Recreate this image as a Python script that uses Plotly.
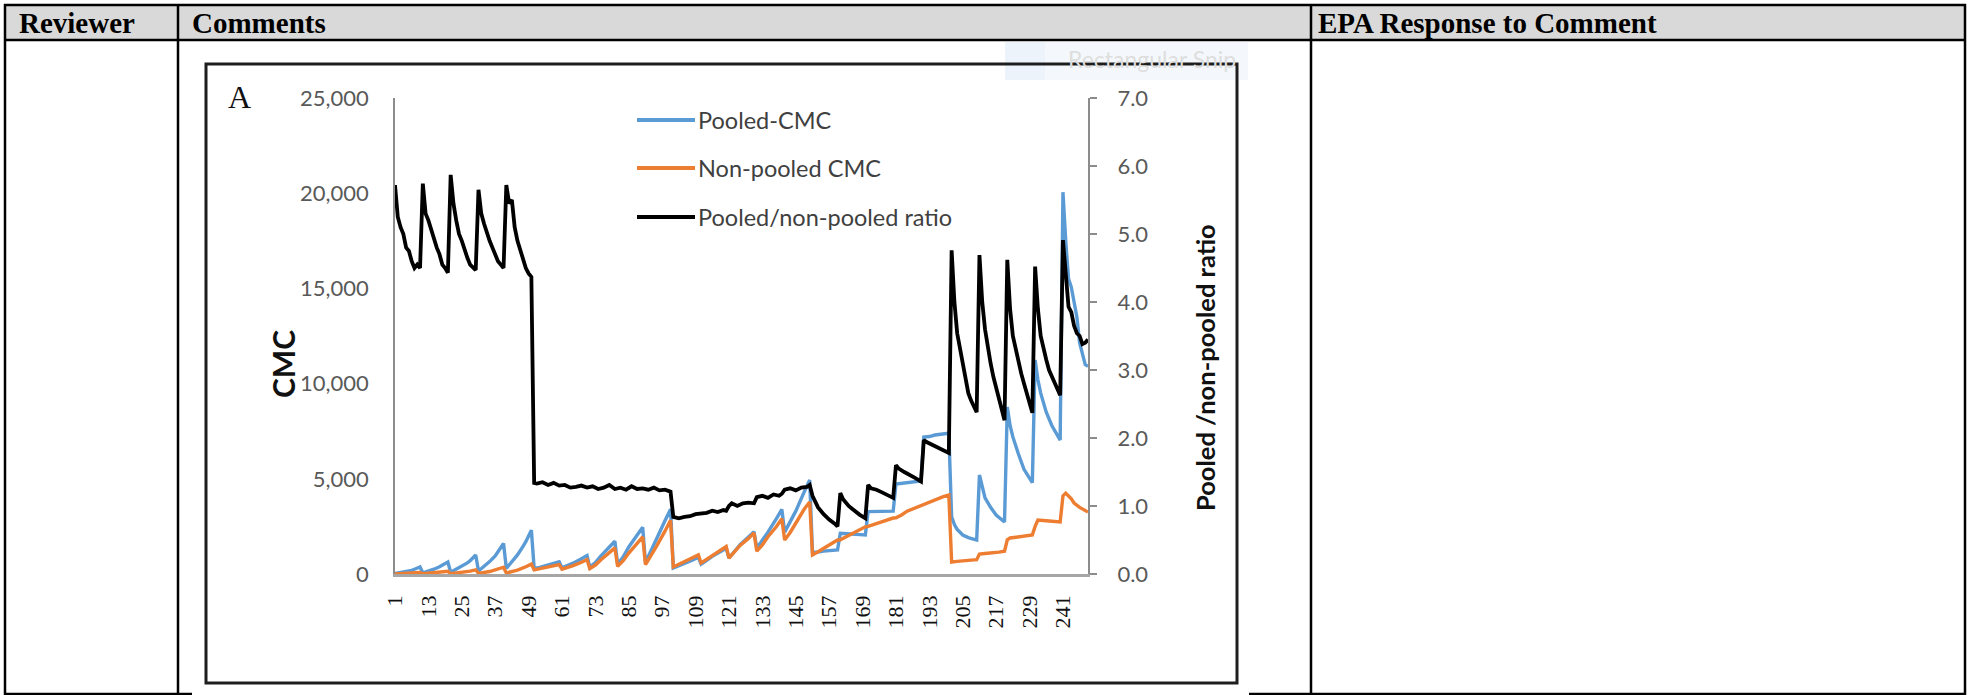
import plotly.graph_objects as go

W, H = 1970, 695

# ---------------- data ----------------
series_names = ["Pooled-CMC", "Non-pooled CMC", "Pooled/non-pooled ratio"]
x_tick_labels = ["1", "13", "25", "37", "49", "61", "73", "85", "97", "109", "121", "133",
                 "145", "157", "169", "181", "193", "205", "217", "229", "241"]
x_tick_vals = [1, 13, 25, 37, 49, 61, 73, 85, 97, 109, 121, 133, 145, 157, 169, 181, 193, 205, 217, 229, 241]

pooled_x = [1, 3, 5, 7, 8, 10, 11, 13, 15, 17, 18, 20, 21, 23, 25, 27, 28, 30, 31, 33, 35, 37, 38, 40,
            41, 43, 45, 47, 48, 50,
            51, 53, 55, 58, 60, 61, 63, 65, 68, 70, 71, 73, 75, 78, 80, 81, 83, 85, 88, 90, 91, 93, 95, 98, 100,
            101, 103, 105, 108, 110, 111, 113, 115, 118, 120, 121, 123, 125, 128, 130, 131, 133, 135, 138, 140,
            141, 143, 145, 148, 150,
            151, 153, 155, 158, 160, 161, 163, 165, 168, 170, 171, 173, 175, 178, 180, 181, 183, 185, 188, 190,
            191, 193, 195, 198, 200,
            201, 202, 203, 205, 207, 210, 211, 212, 213, 215, 217, 220, 221, 222, 223, 225, 227, 230,
            231, 232, 233, 235, 237, 240, 241, 242, 243, 244, 246, 247, 249, 250]
pooled_y = [30, 70, 120, 190, 250, 370, 60, 150, 250, 380, 450, 630, 90, 250, 400, 580, 700, 1000, 160, 400, 650, 950, 1150, 1600,
            300, 650, 1000, 1450, 1700, 2300,
            290, 350, 440, 560, 640, 330, 430, 570, 800, 970, 360, 600, 950, 1400, 1720, 510, 900, 1420, 2000, 2450, 610, 1200, 1850, 2800, 3400,
            310, 420, 550, 740, 880, 520, 720, 930, 1180, 1350, 840, 1180, 1540, 1950, 2220, 1350, 1750, 2200, 2900, 3390,
            2200, 2750, 3300, 4300, 4935,
            1150, 1150, 1200, 1240, 1260, 2140, 2100, 2100, 2070, 2050, 3275, 3280, 3300, 3300, 3300, 4720, 4760, 4800, 4850, 4890,
            7190, 7220, 7300, 7350, 7390,
            3000, 2600, 2340, 2050, 1915, 1785, 5200, 4500, 4000, 3500, 3100, 2730, 8770, 7800, 7200, 6300, 5500, 4800,
            11235, 10200, 9500, 8500, 7800, 7035, 20055, 17500, 15500, 15070, 13500, 12130, 11000, 10900]

nonpooled_x = [1, 5, 8, 10, 11, 15, 18, 20, 21, 25, 28, 30, 31, 35, 38, 40, 41, 45, 48, 50,
               51, 53, 55, 58, 60, 61, 63, 65, 68, 70, 71, 73, 75, 78, 80, 81, 83, 85, 88, 90, 91, 93, 95, 98, 100,
               101, 103, 105, 108, 110, 111, 113, 115, 118, 120, 121, 123, 125, 128, 130, 131, 133, 135, 138, 140,
               141, 143, 145, 148, 150,
               151, 153, 155, 158, 160, 161, 163, 165, 168, 170, 171, 173, 175, 178, 180, 181, 183, 185, 188, 190,
               191, 193, 195, 198, 200,
               201, 203, 205, 208, 210, 211, 213, 215, 218, 220, 221, 222, 225, 228, 230, 231, 232, 235, 238, 240,
               241, 242, 244, 245, 247, 249, 250]
nonpooled_y = [5, 25, 55, 80, 10, 55, 100, 140, 15, 80, 150, 220, 30, 130, 250, 355, 50, 200, 380, 520,
               220, 270, 330, 420, 490, 250, 330, 440, 620, 760, 280, 470, 750, 1100, 1370, 400, 700, 1100, 1600, 1950,
               490, 950, 1460, 2250, 2820,
               370, 510, 650, 840, 1000, 580, 770, 1000, 1250, 1440, 840, 1150, 1500, 1870, 2150, 1200, 1530, 1960, 2480, 2900,
               1780, 2180, 2700, 3400, 3780,
               1000, 1170, 1350, 1620, 1785, 1800, 1950, 2100, 2350, 2480, 2500, 2600, 2700, 2850, 2940, 2950, 3100, 3300, 3480, 3620,
               3650, 3780, 3900, 4060, 4150,
               630, 660, 700, 730, 750, 1050, 1080, 1100, 1150, 1200, 1800, 1890, 1950, 2000, 2050, 2500, 2835, 2800, 2760, 2730,
               4100, 4250, 3950, 3730, 3500, 3300, 3250]

ratio_x = list(range(1, 51)) + [
    51, 52, 54, 56, 58, 60, 62, 64, 66, 68, 70, 72, 74, 76, 78, 80, 82, 84, 86, 88, 90, 92, 94, 96, 98, 100,
    101, 103, 105, 107, 109, 111, 113, 115, 117, 119, 120, 121, 122, 124, 126, 128, 130, 131, 133, 135, 137, 139, 140,
    141, 143, 145, 147, 149, 150,
    151, 152, 153, 155, 157, 159, 160, 161, 162, 164, 166, 168, 170, 171, 172, 174, 176, 178, 180,
    181, 182, 184, 186, 188, 190, 191, 192, 194, 196, 198, 200] + list(range(201, 251))
ratio_y = [5.72, 5.25, 5.1, 5.0, 4.8, 4.75, 4.6, 4.5, 4.55, 4.5,
           5.74, 5.3, 5.2, 5.05, 4.9, 4.8, 4.7, 4.55, 4.5, 4.43,
           5.87, 5.45, 5.2, 5.0, 4.9, 4.75, 4.65, 4.55, 4.5, 4.47,
           5.65, 5.3, 5.15, 5.0, 4.9, 4.8, 4.7, 4.6, 4.55, 4.5,
           5.72, 5.45, 5.5, 5.1, 4.9, 4.75, 4.63, 4.5, 4.42, 4.37,
           1.34, 1.33, 1.35, 1.31, 1.34, 1.3, 1.31, 1.27, 1.28, 1.3, 1.27, 1.29, 1.25, 1.27, 1.31, 1.25, 1.27, 1.24,
           1.29, 1.25, 1.26, 1.24, 1.27, 1.23, 1.24, 1.21,
           0.84, 0.82, 0.84, 0.85, 0.88, 0.89, 0.9, 0.93, 0.91, 0.94, 0.93, 1.0, 1.04, 1.0, 1.04, 1.05, 1.04,
           1.13, 1.15, 1.12, 1.17, 1.15, 1.18, 1.24, 1.26, 1.23, 1.27, 1.28, 1.31,
           1.15, 1.05, 0.98, 0.88, 0.8, 0.74, 0.7, 1.19, 1.1, 1.0, 0.93, 0.87, 0.82, 1.31, 1.26, 1.24, 1.2, 1.16, 1.12,
           1.6, 1.55, 1.5, 1.46, 1.41, 1.36, 1.97, 1.94, 1.9, 1.86, 1.82, 1.78,
           4.76, 4.0, 3.54, 3.3, 3.1, 2.85, 2.66, 2.55, 2.45, 2.38,
           4.69, 4.0, 3.6, 3.3, 3.1, 2.9, 2.75, 2.55, 2.4, 2.26,
           4.62, 3.9, 3.5, 3.3, 3.1, 2.95, 2.8, 2.65, 2.5, 2.37,
           4.52, 3.9, 3.5, 3.3, 3.15, 3.0, 2.9, 2.8, 2.7, 2.63,
           4.91, 4.4, 3.93, 3.85, 3.65, 3.54, 3.5, 3.38, 3.4, 3.45]

series_colors = ["#5B9BD5", "#ED7D31", "#000000"]
left_ticks = [0, 5000, 10000, 15000, 20000, 25000]
right_ticks = [0, 1, 2, 3, 4, 5, 6, 7]


def px(x):
    return x / W


def py(y):
    return 1 - y / H


fig = go.Figure()
fig.add_trace(go.Scatter(x=pooled_x, y=pooled_y, mode="lines", name=series_names[0],
                         line=dict(color=series_colors[0], width=3.4), yaxis="y"))
fig.add_trace(go.Scatter(x=nonpooled_x, y=nonpooled_y, mode="lines", name=series_names[1],
                         line=dict(color=series_colors[1], width=3.4), yaxis="y"))
fig.add_trace(go.Scatter(x=ratio_x, y=ratio_y, mode="lines", name=series_names[2],
                         line=dict(color=series_colors[2], width=3.8), yaxis="y2"))

shapes = []
ann = []
BL = "#000000"

# header background
shapes.append(dict(type="rect", xref="paper", yref="paper", x0=px(5), x1=px(1965), y0=py(40), y1=py(5),
                   fillcolor="#d9d9d9", line=dict(width=0), layer="below"))


def hline(y, x0, x1, w=2.5):
    shapes.append(dict(type="line", xref="paper", yref="paper", x0=px(x0), x1=px(x1), y0=py(y), y1=py(y),
                       line=dict(color=BL, width=w)))


def vline(x, y0, y1, w=2.5):
    shapes.append(dict(type="line", xref="paper", yref="paper", x0=px(x), x1=px(x), y0=py(y0), y1=py(y1),
                       line=dict(color=BL, width=w)))


hline(5, 4, 1966)
hline(40, 4, 1966)
hline(694, 4, 192)
hline(694, 1249, 1966)
vline(5, 4, 695)
vline(178, 4, 695)
vline(1311, 4, 695)
vline(1965, 4, 695)

# faint snip overlay
shapes.append(dict(type="rect", xref="paper", yref="paper", x0=px(1005), x1=px(1248), y0=py(80), y1=py(42),
                   fillcolor="#f4f8fc", line=dict(width=0), layer="below"))
shapes.append(dict(type="rect", xref="paper", yref="paper", x0=px(1005), x1=px(1045), y0=py(80), y1=py(42),
                   fillcolor="#edf3fa", line=dict(width=0), layer="below"))
ann.append(dict(text="Rectangular Snip", x=px(1066), y=py(59), xref="paper", yref="paper", showarrow=False,
                xanchor="left", yanchor="middle", font=dict(family="Lato", size=23, color="#dedede")))

# chart frame
shapes.append(dict(type="rect", xref="paper", yref="paper", x0=px(206), x1=px(1237), y0=py(683), y1=py(64),
                   line=dict(color="#1e1e1e", width=3)))

# manual legend
leg_rows = [120, 168, 217]
for name, col, yy in zip(series_names, series_colors, leg_rows):
    shapes.append(dict(type="line", xref="paper", yref="paper", x0=px(637), x1=px(695), y0=py(yy), y1=py(yy),
                       line=dict(color=col, width=3.8)))
    ann.append(dict(text=name, x=px(696), y=py(yy), xref="paper", yref="paper", showarrow=False,
                    xanchor="left", yanchor="middle", font=dict(family="Lato", size=23.5, color="#404040")))

# header texts
hdr_font = dict(family="Liberation Serif", size=29, color="#000000")
for txt, xx in [("<b>Reviewer</b>", 17), ("<b>Comments</b>", 190), ("<b>EPA Response to Comment</b>", 1316)]:
    ann.append(dict(text=txt, x=px(xx), y=py(23), xref="paper", yref="paper", showarrow=False,
                    xanchor="left", yanchor="middle", font=hdr_font))

# panel letter
ann.append(dict(text="A", x=px(226), y=py(97), xref="paper", yref="paper", showarrow=False,
                xanchor="left", yanchor="middle", font=dict(family="Liberation Serif", size=32, color="#111111")))

# axis titles
ann.append(dict(text="<b>CMC</b>", x=px(283), y=py(364), xref="paper", yref="paper", showarrow=False,
                textangle=-90, xanchor="center", yanchor="middle",
                font=dict(family="Lato", size=30, color="#111111")))
ann.append(dict(text="<b>Pooled /non-pooled ratio</b>", x=px(1205), y=py(368), xref="paper", yref="paper",
                showarrow=False, textangle=-90, xanchor="center", yanchor="middle",
                font=dict(family="Lato", size=25.5, color="#111111")))

tick_font = dict(family="Lato", size=22, color="#595959")

fig.update_layout(
    template="none",
    width=W, height=H, autosize=False,
    margin=dict(l=0, r=0, t=0, b=0, pad=0, autoexpand=False),
    paper_bgcolor="white", plot_bgcolor="white",
    showlegend=False,
    shapes=shapes, annotations=ann,
    xaxis=dict(domain=[px(395), px(1088)], range=[1, 250], tickmode="array", tickvals=x_tick_vals,
               ticktext=x_tick_labels, tickangle=-90, showgrid=False, zeroline=False, automargin=False,
               showline=True, linecolor="#a6a6a6", linewidth=2.5, ticks="", ticklabelstandoff=10,
               tickfont=dict(family="Liberation Serif", size=22, color="#111111")),
    yaxis=dict(domain=[py(574), py(98)], range=[0, 25000], tickmode="array", tickvals=left_ticks,
               tickformat=",", showgrid=False, zeroline=False, showline=True, linecolor="#8c8c8c",
               linewidth=1.5, ticks="", ticklabelstandoff=20, tickfont=tick_font, automargin=False),
    yaxis2=dict(domain=[py(574), py(98)], range=[0, 7], overlaying="y", side="right", anchor="x",
                tickmode="array", tickvals=right_ticks, tickformat=".1f", showgrid=False, zeroline=False,
                showline=True, linecolor="#8c8c8c", linewidth=2, ticks="outside", ticklen=7,
                tickcolor="#8c8c8c", tickwidth=2, ticklabelstandoff=16, tickfont=tick_font, automargin=False),
)

fig.write_html("out.html", config={"displayModeBar": False},
               post_script="document.body.style.margin='0px';document.body.style.overflow='hidden';")
